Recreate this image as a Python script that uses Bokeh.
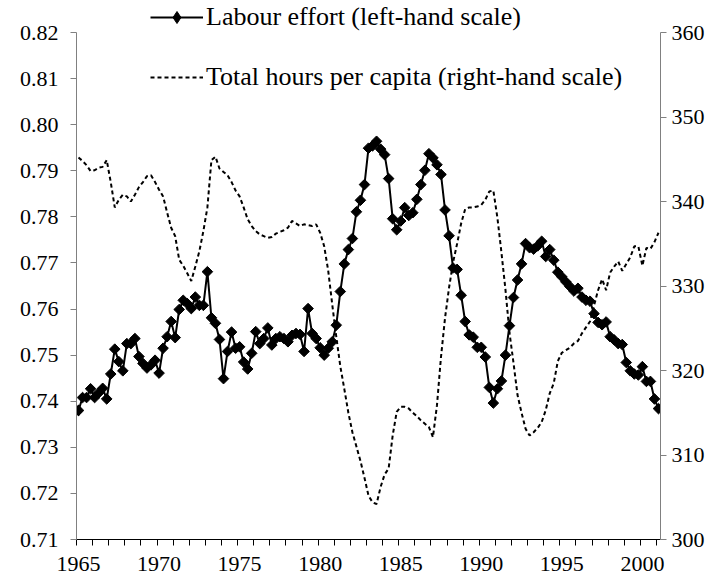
import numpy as np
from bokeh.plotting import figure
from bokeh.models import (Range1d, LinearAxis, FixedTicker, PrintfTickFormatter,
                          Legend, LegendItem)
from bokeh.embed import file_html
from bokeh.resources import INLINE

# ---------------- data (quarterly, 1965Q1 - 2001Q1) ----------------
start_year = 1965

labour_effort = [
    0.7380, 0.7408, 0.7408, 0.7427, 0.7408, 0.7418, 0.7428, 0.7405,
    0.7459, 0.7513, 0.7486, 0.7466, 0.7525, 0.7525, 0.7536, 0.7497,
    0.7482, 0.7472, 0.7479, 0.7489, 0.7461, 0.7515, 0.7540, 0.7573,
    0.7538, 0.7599, 0.7619, 0.7612, 0.7601, 0.7626, 0.7608, 0.7608,
    0.7681, 0.7581, 0.7569, 0.7534, 0.7449, 0.7508, 0.7550, 0.7515,
    0.7518, 0.7485, 0.7470, 0.7504, 0.7551, 0.7525, 0.7536, 0.7559,
    0.7522, 0.7536, 0.7540, 0.7536, 0.7529, 0.7543, 0.7547, 0.7545,
    0.7508, 0.7601, 0.7547, 0.7536, 0.7516, 0.7500, 0.7515, 0.7529,
    0.7565, 0.7638, 0.7698, 0.7729, 0.7753, 0.7811, 0.7836, 0.7870,
    0.7949, 0.7954, 0.7964, 0.7947, 0.7935, 0.7883, 0.7796, 0.7772,
    0.7791, 0.7820, 0.7803, 0.7809, 0.7838, 0.7870, 0.7901, 0.7937,
    0.7928, 0.7913, 0.7892, 0.7815, 0.7759, 0.7689, 0.7686, 0.7630,
    0.7573, 0.7544, 0.7539, 0.7517, 0.7517, 0.7496, 0.7430, 0.7396,
    0.7427, 0.7444, 0.7500, 0.7564, 0.7625, 0.7663, 0.7698, 0.7742,
    0.7733, 0.7730, 0.7737, 0.7747, 0.7714, 0.7729, 0.7706, 0.7680,
    0.7670, 0.7659, 0.7649, 0.7639, 0.7645, 0.7626, 0.7619, 0.7617,
    0.7590, 0.7571, 0.7566, 0.7572, 0.7540, 0.7533, 0.7525, 0.7523,
    0.7484, 0.7466, 0.7459, 0.7457, 0.7475, 0.7443, 0.7443, 0.7405,
    0.7384,
]

hours_per_capita = [
    345.2, 344.8, 344.3, 343.6, 343.7, 344.0, 344.1, 344.9,
    342.3, 339.3, 340.2, 340.8, 340.6, 340.0, 340.8, 341.7,
    342.3, 343.0, 343.1, 342.3, 341.4, 340.6, 338.7, 336.9,
    335.9, 333.1, 332.4, 331.5, 330.6, 332.3, 334.1, 336.5,
    339.3, 344.9, 345.3, 343.9, 343.5, 343.1, 342.3, 341.3,
    340.6, 339.3, 337.9, 337.1, 336.5, 336.1, 335.9, 335.7,
    335.8, 336.2, 336.4, 336.6, 336.9, 337.7, 337.4, 337.1,
    337.3, 337.2, 337.1, 337.3, 336.3, 334.7, 331.8, 327.8,
    324.0, 320.5, 317.8, 315.0, 312.7, 311.0, 309.3, 307.3,
    305.2, 304.4, 304.2, 306.2, 307.7, 308.4, 312.3, 315.1,
    315.7, 315.7, 315.5, 315.0, 314.6, 314.1, 313.7, 313.3,
    312.1, 315.9, 321.6, 326.2, 329.8, 332.8, 335.0, 337.4,
    339.1, 339.3, 339.3, 339.4, 339.6, 340.2, 341.2, 341.3,
    338.1, 334.0, 329.6, 324.5, 320.9, 317.1, 315.0, 313.1,
    312.3, 312.7, 313.2, 313.9, 315.3, 317.3, 318.5, 321.1,
    322.1, 322.4, 322.7, 323.2, 323.5, 324.4, 325.1, 325.8,
    327.7, 329.5, 330.8, 329.5, 331.6, 332.3, 332.9, 331.8,
    332.6, 333.4, 334.7, 334.7, 332.4, 334.5, 334.4, 335.2,
    336.3,
]

left_ticks = [0.71, 0.72, 0.73, 0.74, 0.75, 0.76, 0.77, 0.78, 0.79, 0.80, 0.81, 0.82]
right_ticks = [300, 310, 320, 330, 340, 350, 360]
year_labels = [1965, 1970, 1975, 1980, 1985, 1990, 1995, 2000]
year_ticks = list(range(1965, 2002))

n = len(labour_effort)
quarters = [start_year + (i + 0.5) / 4 for i in range(n)]

FONT = "'Liberation Serif'"
AXIS_FS = "22px"
LEG_FS = "26px"

# layout (pixels)
W, H = 709, 580
FRAME_L, FRAME_R, FRAME_B = 76, 660, 539
TOP_GAP = 32               # free space above the top tick, used by the legend
frame_h = FRAME_B           # frame starts at the very top
scale_h = frame_h - TOP_GAP

lpad = (left_ticks[-1] - left_ticks[0]) * TOP_GAP / scale_h
rpad = (right_ticks[-1] - right_ticks[0]) * TOP_GAP / scale_h

p = figure(width=W, height=H, output_backend="svg", toolbar_location=None,
           x_range=Range1d(1965, 2001.25),
           y_range=Range1d(left_ticks[0], left_ticks[-1] + lpad),
           min_border_left=FRAME_L, min_border_right=W - FRAME_R,
           min_border_top=0, min_border_bottom=H - FRAME_B)
p.extra_y_ranges = {"hours": Range1d(right_ticks[0], right_ticks[-1] + rpad)}
p.outline_line_color = None
p.grid.visible = False
p.background_fill_color = "white"
p.border_fill_color = "white"

# bottom axis
xa = p.xaxis[0]
xa.ticker = FixedTicker(ticks=[y + 0.125 for y in year_labels], minor_ticks=year_ticks)
xa.major_tick_line_color = None
xa.major_tick_out = 6
xa.major_tick_in = 0
xa.minor_tick_out = 6
xa.minor_tick_in = 0
xa.minor_tick_line_color = "black"
xa.axis_line_color = "black"
xa.major_label_overrides = {y + 0.125: str(y) for y in year_labels}
xa.major_label_text_font = FONT
xa.major_label_text_font_size = AXIS_FS
xa.major_label_text_color = "black"
xa.major_label_standoff = 11

# left axis
ya = p.yaxis[0]
ya.ticker = FixedTicker(ticks=left_ticks)
ya.bounds = (left_ticks[0], left_ticks[-1])
ya.formatter = PrintfTickFormatter(format="%.2f")
ya.axis_line_color = "#808080"
ya.major_tick_line_color = "#808080"
ya.minor_tick_line_color = None
ya.major_tick_out = 6
ya.major_tick_in = 0
ya.major_label_text_font = FONT
ya.major_label_text_font_size = AXIS_FS
ya.major_label_text_color = "black"
ya.major_label_standoff = 12

# right axis
ra = LinearAxis(y_range_name="hours", ticker=FixedTicker(ticks=right_ticks),
                bounds=(right_ticks[0], right_ticks[-1]))
ra.axis_line_color = "#808080"
ra.major_tick_line_color = "#808080"
ra.minor_tick_line_color = None
ra.major_tick_out = 6
ra.major_tick_in = 0
ra.major_label_text_font = FONT
ra.major_label_text_font_size = AXIS_FS
ra.major_label_text_color = "black"
ra.major_label_standoff = 5
p.add_layout(ra, "right")

hours_r = p.line(quarters, hours_per_capita, y_range_name="hours",
                 line_color="black", line_width=2, line_dash="4 3")
lab_line = p.line(quarters, labour_effort, line_color="black", line_width=2)
# legend swatch for the diamond marker: sits under the first real marker
lab_key = p.scatter(quarters[:1], labour_effort[:1], marker="diamond", size=11,
                    fill_color="black", line_color="black")
lab_pts = p.scatter(quarters, labour_effort, marker="square", angle=np.pi / 4,
                    size=7.5, fill_color="black", line_color="black")

legend = Legend(items=[
    LegendItem(label="Labour effort (left-hand scale)", renderers=[lab_line, lab_key]),
    LegendItem(label="Total hours per capita (right-hand scale)", renderers=[hours_r]),
], location=(74, 447), border_line_color=None, background_fill_alpha=0,
    padding=0, margin=0, spacing=30, glyph_width=53, glyph_height=30,
    label_height=30, label_standoff=3, label_text_font=FONT,
    label_text_font_size=LEG_FS, label_text_color="black")
p.add_layout(legend)

open("out.html", "w").write(file_html(p, INLINE))
